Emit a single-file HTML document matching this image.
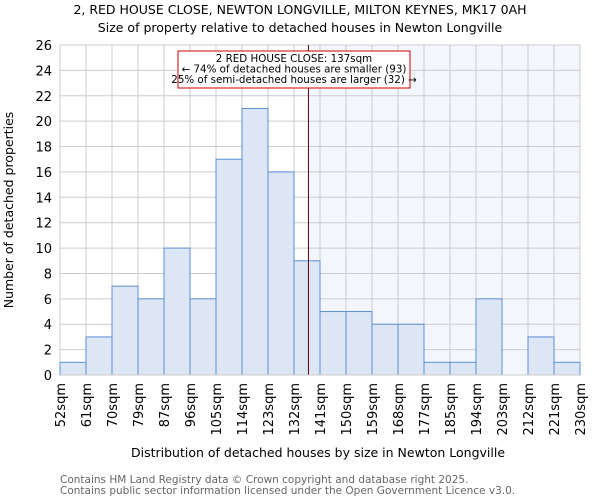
<!DOCTYPE html>
<html><head><meta charset="utf-8"><style>
body{margin:0;background:#fff;font-family:"DejaVu Sans","Liberation Sans",sans-serif}
svg text{font-family:"DejaVu Sans","Liberation Sans",sans-serif}
</style></head><body>
<svg id="c" width="600" height="500">
<text x="300" y="14" font-size="12.5" text-anchor="middle">2, RED HOUSE CLOSE, NEWTON LONGVILLE, MILTON KEYNES, MK17 0AH</text>
<text x="300" y="32" font-size="12.5" text-anchor="middle">Size of property relative to detached houses in Newton Longville</text>
<g id="plot"></g>
<text x="318" y="457" font-size="12.5" text-anchor="middle">Distribution of detached houses by size in Newton Longville</text>
<text transform="translate(13,210) rotate(-90)" font-size="12.5" text-anchor="middle">Number of detached properties</text>
<text x="60" y="483" font-size="10.5" fill="#666">Contains HM Land Registry data © Crown copyright and database right 2025.</text>
<text x="60" y="494" font-size="10.5" fill="#666">Contains public sector information licensed under the Open Government Licence v3.0.</text>
</svg>
<script>
const categories=["52sqm","61sqm","70sqm","79sqm","87sqm","96sqm","105sqm","114sqm","123sqm","132sqm","141sqm","150sqm","159sqm","168sqm","177sqm","185sqm","194sqm","203sqm","212sqm","221sqm","230sqm"];
const counts=[1,3,7,6,10,6,17,21,16,9,5,5,4,4,1,1,6,0,3,1];
const yTicks=[0,2,4,6,8,10,12,14,16,18,20,22,24,26];
const markerIndex=9.555;
const L=60,R=580,T=45,B=375,yMax=26;
const NS="http://www.w3.org/2000/svg";
const g=document.getElementById('plot');
const xs=i=>L+(R-L)*i/counts.length;
const ys=v=>B-(B-T)*v/yMax;
function mk(t,a){const e=document.createElementNS(NS,t);for(const k in a)e.setAttribute(k,a[k]);g.appendChild(e);return e;}
const mx=xs(markerIndex);
let sh=mk('rect',{x:mx,y:T,width:R-mx,height:B-T,fill:'#f4f6fd'});


yTicks.forEach(v=>{
 let l=mk('line',{x1:L,x2:R,y1:ys(v),y2:ys(v),stroke:'#cccccc'});
 
 
 let t=mk('text',{x:L-8,y:ys(v)+5,'font-size':13,'text-anchor':'end'});t.textContent=v;
 
 
});
categories.forEach((c,i)=>{
 let x=xs(i);
 let l=mk('line',{x1:x,x2:x,y1:T,y2:B,stroke:'#cccccc'});
 
 
 let t=mk('text',{transform:`translate(${x+5},${B+8}) rotate(-90)`,'font-size':13,'text-anchor':'end'});t.textContent=c;
 
 
});
counts.forEach((v,i)=>{
 if(v<=0)return;
 let r=mk('rect',{x:xs(i),y:ys(v),width:xs(i+1)-xs(i),height:B-ys(v),fill:'#dce6f4',stroke:'#5b8fd6','stroke-width':1});
 
 
});
let ml=mk('line',{x1:mx,x2:mx,y1:T,y2:B,stroke:'#550000','stroke-width':1});


let ax=mk('line',{x1:L,x2:R,y1:B,y2:B,stroke:'#cccccc'});


let box=mk('rect',{x:178,y:51,width:232,height:37,fill:'#fff',stroke:'#cc0000','stroke-width':1});


["2 RED HOUSE CLOSE: 137sqm","← 74% of detached houses are smaller (93)","25% of semi-detached houses are larger (32) →"].forEach((s,k)=>{
 let t=mk('text',{x:294,y:62+k*10.5,'font-size':10.3,'text-anchor':'middle'});t.textContent=s;
 
 
});
</script>
</body></html>
